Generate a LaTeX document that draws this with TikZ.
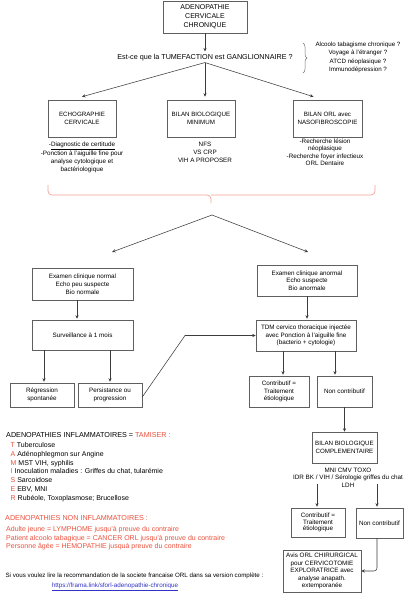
\documentclass[tikz,border=0pt]{standalone}
\usepackage{fontspec}
\setmainfont{Liberation Sans}
\usetikzlibrary{arrows.meta,decorations.pathreplacing}
\definecolor{redt}{RGB}{235,80,60}
\definecolor{bracec}{RGB}{245,160,150}
\definecolor{boxc}{RGB}{95,95,95}
\definecolor{arrc}{RGB}{60,60,60}
\definecolor{linkc}{RGB}{50,50,200}
\newcommand\fsz[2]{\fontsize{#1}{#2}\selectfont}
\tikzset{
  box/.style={draw=boxc, line width=0.6pt, rectangle, align=center, inner sep=1pt, font=\fsz{6.2}{7.6}},
  arr/.style={draw=arrc, line width=0.55pt, -{Stealth[length=3.5pt,width=3.2pt]}},
  txt/.style={align=center, inner sep=0pt, font=\fsz{6.3}{7.6}},
  ltxt/.style={anchor=base west, inner sep=0pt, font=\fsz{7}{8}},
  rbrace/.style={draw=bracec, line width=0.7pt, rounded corners=4pt},
}
\begin{document}
\begin{tikzpicture}[x=1pt,y=-1pt]
\useasboundingbox (0,0) rectangle (412,600);
% top
\node[box, minimum width=84pt, minimum height=32pt, font=\fsz{7}{9}] (top) at (205,17) {ADENOPATHIE\\CERVICALE\\CHRONIQUE};
\node[txt, font=\fsz{7.2}{9}] (q) at (205,58) {Est-ce que la TUMEFACTION est GANGLIONNAIRE ?};
\draw[arr] (top.south) -- ([yshift=3pt]q.north);
\draw[decorate, decoration={brace, amplitude=4pt}, draw=black!55, line width=0.5pt] (303,43) -- (303,73);
\node[txt, font=\fsz{6.2}{8.3}] (risk) at (358,57.5) {Alcoolo tabagisme chronique ?\\Voyage à l'étranger ?\\ATCD néoplasique ?\\Immunodépression ?};
% row 1
\node[box, minimum width=68pt, minimum height=37pt] (echo) at (82,118.5) {ECHOGRAPHIE\\CERVICALE};
\node[box, minimum width=68pt, minimum height=37pt] (bio) at (201,118.5) {BILAN BIOLOGIQUE\\MINIMUM};
\node[box, minimum width=69pt, minimum height=37pt] (orl) at (327.5,118.5) {BILAN ORL avec\\NASOFIBROSCOPIE};
\draw[arr] ([yshift=-1pt]q.south) -- ([yshift=3pt]echo.north);
\draw[arr] ([yshift=-1pt]q.south) -- ([xshift=4pt,yshift=3pt]bio.north);
\draw[arr] ([yshift=-1pt]q.south) -- ([xshift=-14pt,yshift=3pt]orl.north);
\node[txt] (echotxt) at (82,157.4) {-\underline{Diagnostic de certitude}\\-Ponction à l'aiguille fine pour\\analyse cytologique et\\bactériologique};
\node[txt, font=\fsz{6.3}{7.8}] (biotxt) at (205,152.2) {NFS\\VS CRP\\VIH A PROPOSER};
\node[txt] (orltxt) at (325,152.2) {-Recherche lésion\\néoplasique\\-Recherche foyer infectieux\\ORL Dentaire};
% red brace
\draw[rbrace] (48,185) -- (48,195) -- (211,195) -- (211,203);
\draw[rbrace] (375,185) -- (375,195) -- (211,195);
% split 2
\coordinate (s2) at (212,215);
\coordinate (s2l) at (112,252);
\coordinate (s2r) at (308,252);
\draw[arr] (s2) -- (s2l);
\draw[arr] (s2) -- (s2r);
% left branch
\node[box, minimum width=101pt, minimum height=32pt, font=\fsz{6.3}{7.8}] (exn) at (82.5,284) {Examen clinique normal\\Echo peu suspecte\\Bio normale};
\node[box, minimum width=101pt, minimum height=30pt, font=\fsz{6.3}{7.8}] (surv) at (82.5,335) {Surveillance à 1 mois};
\draw[arr] ([xshift=-5.5pt]exn.south) -- ([xshift=-5.5pt,yshift=1pt]surv.north);
\node[box, minimum width=64pt, minimum height=24pt, font=\fsz{6.3}{7.8}] (regr) at (42,395) {Régression\\spontanée};
\node[box, minimum width=64pt, minimum height=24pt, font=\fsz{6.3}{7.8}] (pers) at (110,395) {Persistance ou\\progression};
\draw[arr] ([xshift=-38.5pt]surv.south) -- ([xshift=2pt,yshift=1pt]regr.north);
\draw[arr] ([xshift=27.5pt]surv.south) -- ([yshift=1pt]pers.north);
% right branch
\node[box, minimum width=100pt, minimum height=31pt, font=\fsz{6.3}{7.4}] (exa) at (307,280.5) {Examen clinique anormal\\Echo suspecte\\Bio anormale};
\node[box, minimum width=100pt, minimum height=31pt, font=\fsz{6.3}{7.6}] (tdm) at (306,335.5) {TDM cervico thoracique injectée\\avec Ponction à l'aiguille fine\\(bacterio + cytologie)};
\draw[arr] (exa.south) -- ([xshift=1pt,yshift=1pt]tdm.north);
\coordinate (bend) at (185,335.5);
\draw[arr] ([yshift=-2pt]pers.east) -- (bend) -- (tdm.west);
\node[box, minimum width=60pt, minimum height=31pt, font=\fsz{6.3}{7.4}] (contrib) at (279,391.5) {Contributif =\\Traitement\\étiologique};
\node[box, minimum width=55pt, minimum height=31pt, font=\fsz{6.3}{7.4}] (noncontrib) at (344.5,391.5) {Non contributif};
\draw[arr] ([xshift=-23pt]tdm.south) -- ([xshift=4pt,yshift=1pt]contrib.north);
\draw[arr] ([xshift=29pt]tdm.south) -- ([xshift=-9.5pt,yshift=1pt]noncontrib.north);
\node[box, minimum width=65pt, minimum height=31pt] (bilanc) at (344.5,447.5) {BILAN BIOLOGIQUE\\COMPLEMENTAIRE};
\draw[arr] (noncontrib.south) -- (bilanc.north);
\node[txt, font=\fsz{6.3}{7.5}] (bilanctxt) at (348,477.5) {MNI CMV TOXO\\IDR BK / VIH / Sérologie griffes du chat\\LDH};
\node[box, minimum width=54pt, minimum height=29pt, font=\fsz{6.3}{6.8}] (contrib2) at (318,522.5) {Contributif =\\Traitement\\étiologique};
\node[box, minimum width=47pt, minimum height=30pt, font=\fsz{6.3}{7.4}] (noncontrib2) at (379.5,523) {Non contributif};
\draw[arr] ([xshift=-31pt,yshift=3pt]bilanctxt.south) -- ([xshift=-1pt,yshift=1pt]contrib2.north);
\draw[arr] ([xshift=29pt,yshift=3pt]bilanctxt.south) -- ([xshift=-2.5pt,yshift=1pt]noncontrib2.north);
\node[box, minimum width=78pt, minimum height=42pt, font=\fsz{6.3}{7.5}] (avis) at (322,571) {Avis ORL CHIRURGICAL\\pour CERVICOTOMIE\\EXPLORATRICE avec\\analyse anapath.\\extemporanée};
\draw[arr, rounded corners=3pt] ([xshift=-2.5pt]noncontrib2.south) |- (avis.east);
% left text
\node[ltxt, font=\fsz{7.2}{8}] (inflh) at (6,437.6) {ADENOPATHIES INFLAMMATOIRES = \textcolor{redt}{TAMISER :}};
\node[ltxt] (l1) at (10.5,447.5) {\textcolor{redt}{T} Tuberculose};
\node[ltxt] (l2) at (10.5,456.25) {\textcolor{redt}{A} Adénophlegmon sur Angine};
\node[ltxt] (l3) at (10.5,465) {\textcolor{redt}{M} MST VIH, syphilis};
\node[ltxt] (l4) at (10.5,473.75) {\textcolor{redt}{I} Inoculation maladies : Griffes du chat, tularémie};
\node[ltxt] (l5) at (10.5,482.5) {\textcolor{redt}{S} Sarcoidose};
\node[ltxt] (l6) at (10.5,491.25) {\textcolor{redt}{E} EBV, MNI};
\node[ltxt] (l7) at (10.5,500) {\textcolor{redt}{R} Rubéole, Toxoplasmose; Brucellose};
\node[ltxt, font=\fsz{7.2}{8}, text=redt] (ninflh) at (5,520.6) {ADENOPATHIES NON INFLAMMATOIRES :};
\node[ltxt, text=redt] (n1) at (6,531.5) {Adulte jeune = LYMPHOME jusqu'à preuve du contraire};
\node[ltxt, text=redt] (n2) at (6,540) {Patient alcoolo tabagique = CANCER ORL jusqu'à preuve du contraire};
\node[ltxt, text=redt] (n3) at (6,548.5) {Personne âgée = HEMOPATHIE jusquà preuve du contraire};
\node[txt, font=\fsz{6.2}{7}] (foot) at (134.5,576) {Si vous voulez lire la recommandation de la societe francaise ORL dans sa version complète :};
\node[txt, font=\fsz{6.3}{7}, text=linkc] (link) at (115,587) {\underline{https://frama.link/sforl-adenopathie-chronique}};
\end{tikzpicture}
\end{document}
